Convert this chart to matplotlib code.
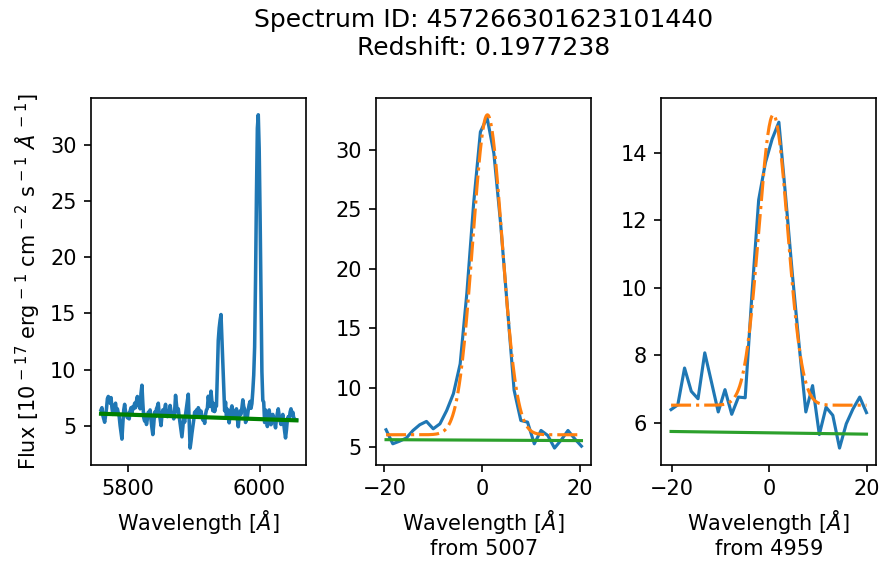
import matplotlib
matplotlib.use("Agg")
import matplotlib.pyplot as plt
import numpy as np

# spectrum info
spec_id = "457266301623101440"
redshift = 0.1977238
line_a, line_b = 5007, 4959

# observed wavelength grid (start, step) and flux [1e-17 erg/s/cm2/A]
wave_start = 5759.3
wave_step = 1.38
flux = [
    # 5759 - 5918
    6.4, 6.6, 5.9, 5.6, 5.3, 5.9, 6.5, 7.4, 7.6, 7.3, 7.0, 7.5, 6.6, 6.0, 6.4, 6.8,
    7.0, 6.2, 6.5, 6.1, 5.8, 5.0, 4.4, 3.8, 5.2, 6.4, 6.9, 6.2, 6.0, 5.7, 6.1, 5.6,
    6.3, 6.6, 6.1, 6.7, 6.5, 7.0, 6.6, 7.2, 7.6, 6.8, 7.1, 6.5, 7.9, 8.6, 7.0, 5.7,
    5.4, 6.0, 5.1, 5.6, 6.2, 6.0, 6.4, 5.5, 4.8, 4.2, 5.1, 6.2, 5.8, 6.5, 6.7, 7.0,
    6.1, 5.6, 5.0, 5.9, 6.4, 6.0, 6.5, 6.9, 6.2, 5.8, 6.3, 5.9, 6.8, 6.3, 5.9, 6.1,
    5.6, 6.3, 7.7, 6.9, 6.2, 6.5, 5.8, 5.2, 4.6, 4.0, 4.9, 5.7, 5.3, 6.0, 6.6, 7.2,
    7.8, 5.4, 3.0, 3.6, 4.3, 4.9, 5.5, 6.2, 5.9, 6.4, 6.1, 6.6, 6.4, 5.9, 6.3, 5.8,
    5.5, 5.8, 5.2, 6.0,
    # 4959 line region
    6.39, 6.53, 7.62, 6.93, 6.71, 8.07, 7.2, 6.32, 6.98, 6.25, 6.76, 6.74, 9.8, 12.6,
    13.7, 14.4, 14.9, 12.7, 10.4, 8.3, 6.32, 7.1, 5.65, 6.46, 6.22, 5.25, 5.97, 6.41,
    6.76, 6.3,
    # 5961 - 5976
    5.7, 6.3, 5.9, 6.5, 5.6, 4.9, 5.8, 6.3, 6.0, 6.6, 7.3, 6.7,
    # 5007 line region
    6.46, 5.28, 5.5, 5.76, 6.4, 6.88, 7.16, 6.54, 6.96, 8.08, 9.5, 12.0, 18.0, 25.5,
    31.5, 32.7, 29.7, 23.8, 16.8, 9.8, 7.24, 7.1, 5.28, 6.4, 5.98, 4.92, 5.6, 6.4,
    5.7, 5.08,
    # 6019 - 6056
    5.7, 6.0, 5.6, 5.3, 4.8, 5.6, 6.1, 6.5, 5.9, 5.4, 5.1, 5.6, 6.0, 5.2, 4.5, 3.9,
    4.6, 5.5, 5.8, 5.5, 6.2, 6.5, 5.9, 6.2, 5.7, 5.6, 5.5, 5.5,
]

# linear continuum (flux at first and last wavelength)
cont_ends = [6.06, 5.47]

# gaussian fits: continuum, amplitude, centre offset, sigma
fit_a = dict(c=6.04, amp=26.9, mu=1.1, sig=3.0)
fit_b = dict(c=6.52, amp=8.6, mu=0.8, sig=2.95)
half_window = 20.6

wave = wave_start + wave_step * np.arange(len(flux))
flux = np.array(flux)
cont = np.interp(wave, [wave[0], wave[-1]], cont_ends)

fig = plt.figure(figsize=(886 / 150, 564 / 150), dpi=150)
axes = fig.subplots(1, 3)
fig.subplots_adjust(left=0.103, right=0.989, bottom=0.176, top=0.826, wspace=0.326)

ax = axes[0]
ax.plot(wave, flux, color="C0", lw=1.7)
ax.plot(wave[[0, -1]], cont[[0, -1]], color="g", lw=2)
ax.set_xlabel(r"Wavelength [$\AA$]")
sp = r"\hspace{0.1}"
ax.set_ylabel(r"Flux [$10^{%s-%s17}$ erg$^{%s-%s1}$ cm$^{%s-%s2}$ "
              r"s$^{%s-%s1}$ $\AA^{%s-%s1}$]" % ((sp,) * 10))
ax.set_xticks([5800, 6000])

for ax, rest, fit in [(axes[1], line_a, fit_a), (axes[2], line_b, fit_b)]:
    centre = rest * (1 + redshift)
    sel = np.abs(wave - centre) <= half_window
    off = wave[sel] - centre
    ax.plot(off, flux[sel], color="C0")
    xx = np.linspace(off.min(), off.max(), 300)
    model = fit["c"] + fit["amp"] * np.exp(-(xx - fit["mu"]) ** 2 / (2 * fit["sig"] ** 2))
    ax.plot(xx, model, "-.", color="C1")
    ax.plot(off[[0, -1]], cont[sel][[0, -1]], color="C2")
    ax.set_xlabel("Wavelength [$\\AA$]\nfrom %d" % rest)

fig.suptitle("Spectrum ID: %s\nRedshift: %s" % (spec_id, redshift),
             x=0.546, y=0.985, va="top")

fig.savefig("out.png", dpi=150)
